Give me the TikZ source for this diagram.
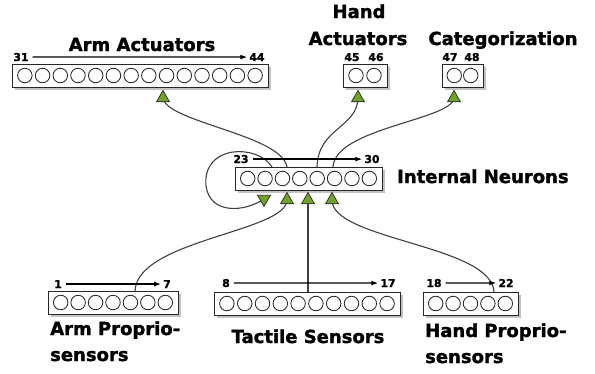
\documentclass[tikz,border=0pt]{standalone}
\usepackage{fontspec}
\setmainfont{DejaVu Sans}[BoldFeatures={FakeBold=1.6}]
\usetikzlibrary{shapes.geometric,shadows,calc,arrows.meta,backgrounds}
\definecolor{syngreen}{RGB}{112,163,42}
\tikzset{
 layerbox/.style={draw=black!85, line width=1.1pt, fill=white, minimum height=23pt, inner sep=0pt,
   drop shadow={shadow xshift=2.5pt, shadow yshift=-2.5pt, fill=black!40, opacity=0.6}},
 neuron/.style={circle, draw=black!85, line width=0.85pt, minimum size=14.5pt, inner sep=0pt, fill=white},
 title/.style={font=\bfseries\fontsize{18}{20}\selectfont, anchor=base, inner sep=0pt},
 titlel/.style={title, anchor=base west},
 idx/.style={font=\bfseries\fontsize{10.8}{12}\selectfont, anchor=base, inner sep=0pt},
 orderarrow/.style={-{Latex[length=7pt,width=5pt]}, line width=1.2pt, shorten <=4pt, shorten >=2pt},
 wire/.style={draw=black!75, line width=1.1pt},
 syn/.style={regular polygon, regular polygon sides=3, draw=black!85, fill=syngreen, minimum size=15pt, inner sep=0pt, line width=0.7pt},
}
\newcommand{\nlayer}[5]{%
  \pgfmathsetmacro{\lw}{#3-#2}%
  \pgfmathsetmacro{\lp}{(#3-#2-8)/#5}%
  \node[layerbox, minimum width=\lw pt, anchor=north west] (#1) at (#2,#4) {};
  \foreach \i in {1,...,#5} {
    \pgfmathsetmacro{\cx}{#2+4+\lp*(\i-0.5)}
    \node[neuron] (#1-\i) at (\cx, #4+11.5) {};
  }
}
\begin{document}
\begin{tikzpicture}[x=1pt,y=-1pt]
\useasboundingbox (0,0) rectangle (595,373);

% layers
\nlayer{armact}{12}{268}{64}{14}
\nlayer{handact}{343}{387}{64}{2}
\nlayer{cat}{442}{483}{64}{2}
\nlayer{int}{235}{382}{167}{8}
\nlayer{armprop}{48}{178}{291}{7}
\nlayer{tact}{214}{400}{292}{10}
\nlayer{handprop}{423}{518}{292}{5}

% titles
\node[title] (tArmAct) at (142,51) {Arm Actuators};
\node[title] (tHand) at (359,18) {Hand};
\node[title] (tHandAct) at (358,45) {Actuators};
\node[title] (tCat) at (503,45) {Categorization};
\node[titlel] (tInt) at (397,183) {Internal Neurons};
\node[titlel] (tArmProp1) at (50,335) {Arm Proprio-};
\node[titlel] (tArmProp2) at (50,361) {sensors};
\node[title] (tTact) at (308,343) {Tactile Sensors};
\node[titlel] (tHandProp1) at (425,337) {Hand Proprio-};
\node[titlel] (tHandProp2) at (425,363) {sensors};

% indices
\node[idx] (n31) at (21,61) {31};
\node[idx] (n44) at (257,61) {44};
\node[idx] (n45) at (352,61) {45};
\node[idx] (n46) at (376,61) {46};
\node[idx] (n47) at (450,61) {47};
\node[idx] (n48) at (472,61) {48};
\node[idx] (n23) at (241,163) {23};
\node[idx] (n30) at (372,163) {30};
\node[idx] (n1) at (58,288) {1};
\node[idx] (n7) at (167,288) {7};
\node[idx] (n8) at (226,287) {8};
\node[idx] (n17) at (388,287) {17};
\node[idx] (n18) at (434,287) {18};
\node[idx] (n22) at (506,287) {22};
\draw[orderarrow] (n31) -- (n44);
\draw[orderarrow] (n23) -- (n30);
\draw[orderarrow] (n1) -- (n7);
\draw[orderarrow] (n8) -- (n17);
\draw[orderarrow] (n18) -- (n22);

% synapse triangles
\node[syn] (sArm) at (163,98) {};
\node[syn] (sHand) at (358,98) {};
\node[syn] (sCat) at (454,98) {};
\node[syn, shape border rotate=180] (sLoop) at (264,199) {};
\node[syn] (sAP) at (287,200) {};
\node[syn] (sT) at (308,200) {};
\node[syn] (sHP) at (332,200) {};

% connections
\begin{scope}[on background layer]
\draw[wire] ($(int.north west)+(52,0)$) .. controls (282,135) and (166,122) .. (sArm.center);
\draw[wire] ($(int.north west)+(82,0)$) .. controls (318,128) and (357,128) .. (sHand.center);
\draw[wire] ($(int.north west)+(98,0)$) .. controls (335,128) and (452,120) .. (sCat.center);
\draw[wire] ($(int.north west)+(37,0)$) .. controls (258,144) and (202,144) .. (206,186)
   .. controls (210,215) and (245,212) .. (sLoop.center);
\draw[wire] ($(armprop.north west)+(87,0)$) .. controls (137,240) and (286,232) .. (sAP.center);
\draw[wire] (tact.north -| sT) -- (sT.center);
\draw[wire] ($(handprop.north west)+(71,0)$) .. controls (492,245) and (332,240) .. (sHP.center);
\end{scope}
\end{tikzpicture}
\end{document}
